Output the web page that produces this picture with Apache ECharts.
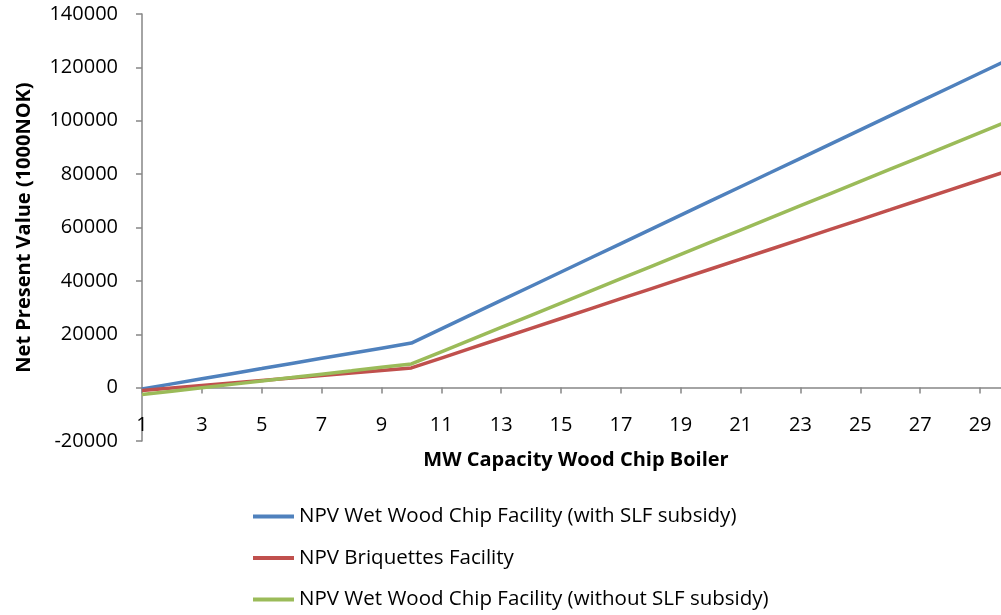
<!DOCTYPE html>
<html>
<head>
<meta charset="utf-8">
<script src="https://cdn.jsdelivr.net/npm/echarts@6/dist/echarts.min.js"></script>
<style>
html,body{margin:0;padding:0;background:#fff;overflow:hidden;}
#chart{width:1010px;height:615px;}
</style>
</head>
<body>
<div id="chart"></div>
<script>
const categories = ['1','2','3','4','5','6','7','8','9','10','11','12','13','14','15','16','17','18','19','20','21','22','23','24','25','26','27','28','29','30'];
const seriesNames = ['NPV Wet Wood Chip Facility (with SLF subsidy)','NPV Briquettes Facility','NPV Wet Wood Chip Facility (without SLF subsidy)'];
const wetWithSubsidy = [-500,1410,3320,5230,7140,9060,10970,12880,14790,16700,22030,27350,32680,38000,43330,48650,53980,59300,64630,69950,75280,80600,85930,91250,96580,101900,107230,112550,117880,123200];
const briquettes = [-1100,-160,780,1720,2660,3600,4550,5490,6430,7370,11080,14780,18490,22200,25910,29610,33320,37030,40730,44440,48150,51860,55560,59270,62980,66680,70390,74100,77810,81510];
const wetWithoutSubsidy = [-2600,-1330,-50,1220,2500,3770,5050,6320,7600,8870,13430,17990,22550,27110,31680,36240,40800,45360,49920,54480,59040,63600,68170,72730,77290,81850,86410,90970,95530,100100];
const xAxisTitle = 'MW Capacity Wood Chip Boiler';
const yAxisTitle = 'Net Present Value (1000NOK)';

const colors = ['#4F81BD','#C0504D','#9BBB59'];
const font = '"Open Sans", "DejaVu Sans", sans-serif';
const chart = echarts.init(document.getElementById('chart'));
const dataSets = [wetWithSubsidy, briquettes, wetWithoutSubsidy];
// y range: -20000..140000 over grid height 427px; zero sits 53.4px above the grid bottom
chart.setOption({
  animation: false,
  backgroundColor: '#fff',
  color: colors,
  grid: {left: 142, right: 0, top: 14, bottom: 174, containLabel: false},
  xAxis: {
    type: 'category',
    data: categories,
    boundaryGap: false,
    position: 'bottom',
    offset: -53.4,
    name: xAxisTitle,
    nameLocation: 'middle',
    nameGap: 63,
    nameTextStyle: {fontFamily: font, fontWeight: 'bold', fontSize: 20, color: '#000'},
    axisLine: {onZero: false, lineStyle: {color: '#868686', width: 1.5}},
    axisTick: {show: true, interval: 1, length: 6, inside: false, lineStyle: {color: '#868686', width: 1.5}},
    axisLabel: {interval: 1, margin: 28, fontFamily: font, fontSize: 20, color: '#000'},
    splitLine: {show: false}
  },
  yAxis: {
    type: 'value',
    min: -20000, max: 140000, interval: 20000,
    name: yAxisTitle,
    nameLocation: 'middle',
    nameGap: 108,
    nameTextStyle: {fontFamily: font, fontWeight: 'bold', fontSize: 20, color: '#000'},
    axisLine: {show: true, lineStyle: {color: '#868686', width: 1.5}},
    axisTick: {show: true, length: 6, lineStyle: {color: '#868686', width: 1.5}},
    axisLabel: {margin: 24, fontFamily: font, fontSize: 20, color: '#000', formatter: v => String(v)},
    splitLine: {show: false}
  },
  legend: {
    orient: 'vertical',
    left: 248, top: 501,
    icon: 'rect',
    itemWidth: 41, itemHeight: 4,
    itemGap: 20.5,
    textStyle: {fontFamily: font, fontSize: 20.5, color: '#000'},
    data: seriesNames
  },
  series: dataSets.map((d, i) => ({
    name: seriesNames[i],
    type: 'line',
    data: d,
    symbol: 'none',
    lineStyle: {width: 3.5, color: colors[i]},
    itemStyle: {color: colors[i]}
  }))
});
</script>
</body>
</html>
